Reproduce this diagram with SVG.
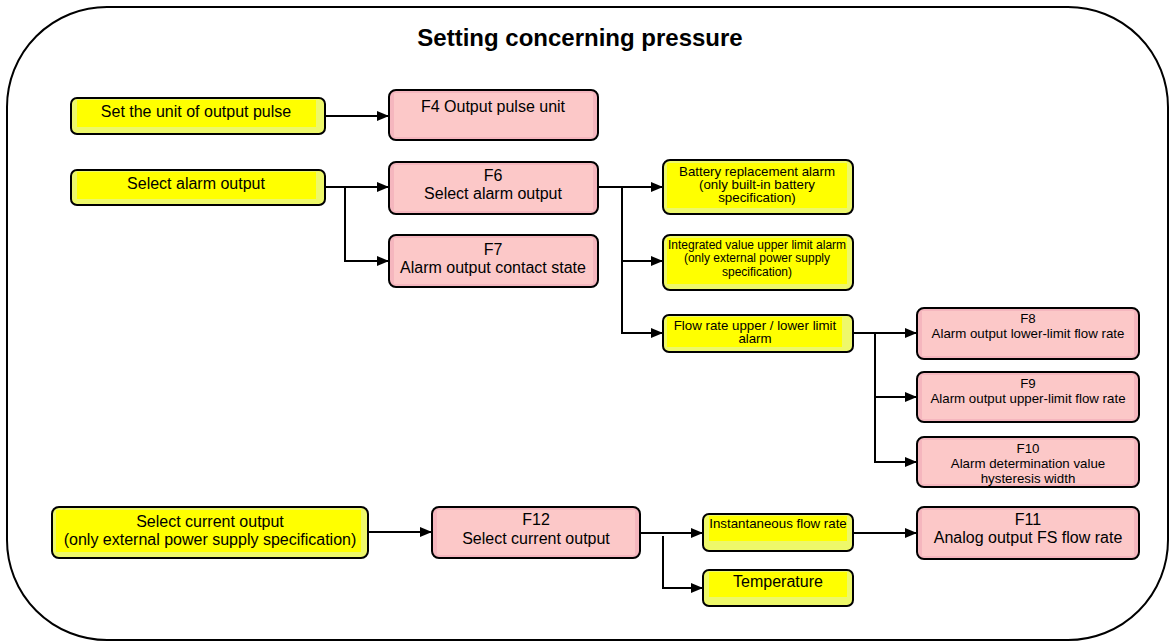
<svg xmlns="http://www.w3.org/2000/svg" width="1169" height="642" viewBox="0 0 1169 642">
<defs>
<style>
.frame{fill:#fff;stroke:#000;stroke-width:2}
.yo{fill:#eef86a;stroke:#000;stroke-width:2}
.yi{fill:#ffff00;stroke:none}
.po{fill:#f5b6be;stroke:#000;stroke-width:2}
.pi{fill:#fcc8c8;stroke:none}
.t{font-family:"Liberation Sans",Arial,sans-serif;fill:#000;text-anchor:middle;font-size:16px}
.s{font-size:13.3px}
.xs{font-size:12px}
.c{fill:none;stroke:#000;stroke-width:2}
</style>
<marker id="ah" markerWidth="12" markerHeight="10" refX="11" refY="5" orient="auto" markerUnits="userSpaceOnUse">
<path d="M0,0 L12,5 L0,10 Z" fill="#000"/>
</marker>
</defs>
<rect class="frame" x="7" y="7" width="1161" height="633" rx="100" ry="100"/>
<text class="t" x="580" y="46" style="font-size:24px" font-weight="bold">Setting concerning pressure</text>

<g id="connectors">
<path class="c" d="M325,116 H388" marker-end="url(#ah)"/>
<path class="c" d="M325,187 H388" marker-end="url(#ah)"/>
<path class="c" d="M345,187 V261 H388" marker-end="url(#ah)"/>
<path class="c" d="M598,187 H662" marker-end="url(#ah)"/>
<path class="c" d="M622,187 V261 H662" marker-end="url(#ah)"/>
<path class="c" d="M622,261 V333 H662" marker-end="url(#ah)"/>
<path class="c" d="M853,333 H916" marker-end="url(#ah)"/>
<path class="c" d="M875,333 V397 H916" marker-end="url(#ah)"/>
<path class="c" d="M875,397 V462 H916" marker-end="url(#ah)"/>
<path class="c" d="M368,532 H431" marker-end="url(#ah)"/>
<path class="c" d="M640,533 H702" marker-end="url(#ah)"/>
<path class="c" d="M663,536 V588 H702" marker-end="url(#ah)"/>
<path class="c" d="M853,533 H916" marker-end="url(#ah)"/>
</g>

<g id="n1">
<rect class="yo" x="71" y="98" width="254" height="36" rx="6"/>
<rect class="yi" x="77" y="100" width="239" height="27"/>
<text class="t" x="196" y="117">Set the unit of output pulse</text>
</g>
<g id="n2">
<rect class="po" x="389" y="90" width="209" height="50" rx="7"/>
<rect class="pi" x="394" y="93" width="199" height="44"/>
<text class="t" x="493" y="112">F4 Output pulse unit</text>
</g>
<g id="n3">
<rect class="yo" x="71" y="170" width="254" height="35" rx="6"/>
<rect class="yi" x="77" y="172" width="239" height="27"/>
<text class="t" x="196" y="189">Select alarm output</text>
</g>
<g id="n4">
<rect class="po" x="389" y="162" width="209" height="52" rx="7"/>
<rect class="pi" x="394" y="165" width="199" height="46"/>
<text class="t" x="493" y="181">F6</text>
<text class="t" x="493" y="199">Select alarm output</text>
</g>
<g id="n5">
<rect class="po" x="389" y="235" width="209" height="52" rx="7"/>
<rect class="pi" x="394" y="238" width="199" height="46"/>
<text class="t" x="493" y="255">F7</text>
<text class="t" x="493" y="273">Alarm output contact state</text>
</g>
<g id="n6">
<rect class="yo" x="663" y="160" width="190" height="54" rx="7"/>
<rect class="yi" x="667" y="163" width="180" height="45"/>
<text class="t s" x="757" y="176">Battery replacement alarm</text>
<text class="t s" x="757" y="189">(only built-in battery</text>
<text class="t s" x="757" y="202">specification)</text>
</g>
<g id="n7">
<rect class="yo" x="663" y="235" width="190" height="55" rx="7"/>
<rect class="yi" x="667" y="238" width="180" height="46"/>
<text class="t xs" x="757" y="249">Integrated value upper limit alarm</text>
<text class="t xs" x="757" y="262">(only external power supply</text>
<text class="t xs" x="757" y="276">specification)</text>
</g>
<g id="n8">
<rect class="yo" x="663" y="315" width="190" height="37" rx="6"/>
<rect class="yi" x="667" y="317" width="175" height="30"/>
<text class="t s" x="755" y="330">Flow rate upper / lower limit</text>
<text class="t s" x="755" y="343">alarm</text>
</g>
<g id="n9">
<rect class="po" x="917" y="308" width="222" height="51" rx="7"/>
<rect class="pi" x="922" y="311" width="212" height="45"/>
<text class="t s" x="1028" y="323">F8</text>
<text class="t s" x="1028" y="338">Alarm output lower-limit flow rate</text>
</g>
<g id="n10">
<rect class="po" x="917" y="372" width="222" height="50" rx="7"/>
<rect class="pi" x="922" y="375" width="212" height="44"/>
<text class="t s" x="1028" y="388">F9</text>
<text class="t s" x="1028" y="403">Alarm output upper-limit flow rate</text>
</g>
<g id="n11">
<rect class="po" x="917" y="437" width="222" height="50" rx="7"/>
<rect class="pi" x="922" y="440" width="212" height="44"/>
<text class="t s" x="1028" y="453">F10</text>
<text class="t s" x="1028" y="468">Alarm determination value</text>
<text class="t s" x="1028" y="483">hysteresis width</text>
</g>
<g id="n12">
<rect class="yo" x="52" y="507" width="316" height="51" rx="7"/>
<rect class="yi" x="56" y="510" width="305" height="42"/>
<text class="t" x="210" y="527">Select current output</text>
<text class="t" x="210" y="545">(only external power supply specification)</text>
</g>
<g id="n13">
<rect class="po" x="432" y="507" width="208" height="51" rx="7"/>
<rect class="pi" x="437" y="510" width="198" height="45"/>
<text class="t" x="536" y="525">F12</text>
<text class="t" x="536" y="544">Select current output</text>
</g>
<g id="n14">
<rect class="yo" x="703" y="514" width="150" height="37" rx="6"/>
<rect class="yi" x="709" y="516" width="138" height="25"/>
<text class="t s" x="778" y="528">Instantaneous flow rate</text>
</g>
<g id="n15">
<rect class="yo" x="703" y="570" width="150" height="36" rx="6"/>
<rect class="yi" x="709" y="572" width="138" height="25"/>
<text class="t" x="778" y="587">Temperature</text>
</g>
<g id="n16">
<rect class="po" x="917" y="507" width="222" height="52" rx="7"/>
<rect class="pi" x="922" y="510" width="212" height="46"/>
<text class="t" x="1028" y="525">F11</text>
<text class="t" x="1028" y="543">Analog output FS flow rate</text>
</g>
</svg>
